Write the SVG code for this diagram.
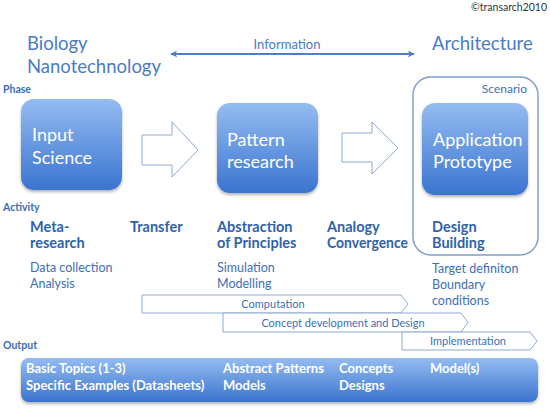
<svg xmlns="http://www.w3.org/2000/svg" width="550" height="408" viewBox="0 0 550 408">
<defs>
<linearGradient id="bg" x1="0" y1="0" x2="0" y2="1">
<stop offset="0" stop-color="#94bcf2"/>
<stop offset="1" stop-color="#3a74cf"/>
</linearGradient>
<filter id="sh" x="-10%" y="-10%" width="120%" height="125%">
<feDropShadow dx="0" dy="2" stdDeviation="1.5" flood-color="#000" flood-opacity="0.3"/>
</filter>
<marker id="ah" viewBox="0 0 10 10" refX="9" refY="5" markerWidth="7" markerHeight="7" orient="auto-start-reverse" markerUnits="userSpaceOnUse">
<path d="M0,0 L10,5 L0,10 L3,5 Z" fill="#4e7ec4"/>
</marker>
</defs>
<style>
text{font-family:Lato,"Open Sans","Liberation Sans",sans-serif}
.title{font-size:18.5px;fill:#4a7cc4}
.lab{font-size:10.5px;font-weight:bold;fill:#3a6cb6}
.box{fill:url(#bg);filter:url(#sh)}
.bt{font-size:18px;fill:#fff}
.act{font-size:14.5px;font-weight:bold;fill:#2f62aa}
.sub{font-size:12.5px;fill:#3d6fb8}
.hol{fill:#fff;stroke:#8eaad2;stroke-width:1}
.chev{fill:#fff;stroke:#8eaad2;stroke-width:1}
.ct{font-size:11px;fill:#3d6fb8;text-anchor:middle}
.ot{font-size:13px;font-weight:bold;fill:#fff}
</style>
<rect width="550" height="408" fill="#fff"/>
<text x="547" y="11" font-size="10.5" fill="#333" text-anchor="end">©transarch2010</text>
<text class="title" x="27" y="50">Biology</text>
<text class="title" x="27" y="73">Nanotechnology</text>
<text class="title" x="432" y="50">Architecture</text>
<text x="287" y="49" font-size="13" fill="#4a7cc4" text-anchor="middle">Information</text>
<text class="lab" x="3" y="93">Phase</text>
<text class="lab" x="3" y="211">Activity</text>
<text class="lab" x="3" y="349">Output</text>

<g id="connectors">
<line x1="171" y1="54" x2="414" y2="54" stroke="#4e7ec4" stroke-width="1.8" marker-start="url(#ah)" marker-end="url(#ah)"/>
<path class="hol" d="M142,135 H172 V122 L198,150 L172,177 V165 H142 Z"/>
<path class="hol" d="M342,133 H372 V122 L398,148 L372,174 V162 H342 Z"/>
</g>

<g id="scenario">
<rect x="413" y="77" width="125" height="178" rx="18" fill="none" stroke="#7f9ecb" stroke-width="1.5"/>
<text x="527" y="93" font-size="12" fill="#3d6fb8" text-anchor="end">Scenario</text>
</g>

<g id="input-science">
<rect class="box" x="21" y="99" width="101" height="91" rx="13"/>
<text class="bt" x="32" y="141">Input</text>
<text class="bt" x="32" y="164">Science</text>
</g>
<g id="pattern-research">
<rect class="box" x="217" y="103" width="101" height="90" rx="13"/>
<text class="bt" x="227" y="146">Pattern</text>
<text class="bt" x="227" y="168">research</text>
</g>
<g id="application-prototype">
<rect class="box" x="422" y="103" width="106" height="92" rx="13"/>
<text class="bt" x="433" y="146">Application</text>
<text class="bt" x="433" y="168">Prototype</text>
</g>

<g id="activities">
<text class="act" x="30" y="232">Meta-</text>
<text class="act" x="30" y="248">research</text>
<text class="act" x="130" y="232">Transfer</text>
<text class="act" x="217" y="232">Abstraction</text>
<text class="act" x="217" y="248">of Principles</text>
<text class="act" x="327" y="232">Analogy</text>
<text class="act" x="327" y="248" textLength="81" lengthAdjust="spacingAndGlyphs">Convergence</text>
<text class="act" x="432" y="232">Design</text>
<text class="act" x="432" y="248">Building</text>
<text class="sub" x="30" y="272">Data collection</text>
<text class="sub" x="30" y="288">Analysis</text>
<text class="sub" x="217" y="272">Simulation</text>
<text class="sub" x="217" y="288">Modelling</text>
<text class="sub" x="432" y="273">Target definiton</text>
<text class="sub" x="432" y="289">Boundary</text>
<text class="sub" x="432" y="305">conditions</text>
</g>

<g id="computation">
<path class="chev" d="M142,295 H401 L408,304 L401,313 H142 Z"/>
<text class="ct" x="273" y="308">Computation</text>
</g>
<g id="concept">
<path class="chev" d="M223,313 H461 L468,322.5 L461,332 H223 Z"/>
<text class="ct" x="343" y="327">Concept development and Design</text>
</g>
<g id="implementation">
<path class="chev" d="M402,332 H530 L537,341 L530,350 H402 Z"/>
<text class="ct" x="468" y="345">Implementation</text>
</g>

<g id="output">
<rect class="box" x="21" y="358" width="517" height="44" rx="8"/>
<text class="ot" x="26" y="373">Basic Topics (1-3)</text>
<text class="ot" x="26" y="390">Specific Examples (Datasheets)</text>
<text class="ot" x="223" y="373">Abstract Patterns</text>
<text class="ot" x="223" y="390">Models</text>
<text class="ot" x="339" y="373">Concepts</text>
<text class="ot" x="339" y="390">Designs</text>
<text class="ot" x="430" y="373">Model(s)</text>
</g>
</svg>
